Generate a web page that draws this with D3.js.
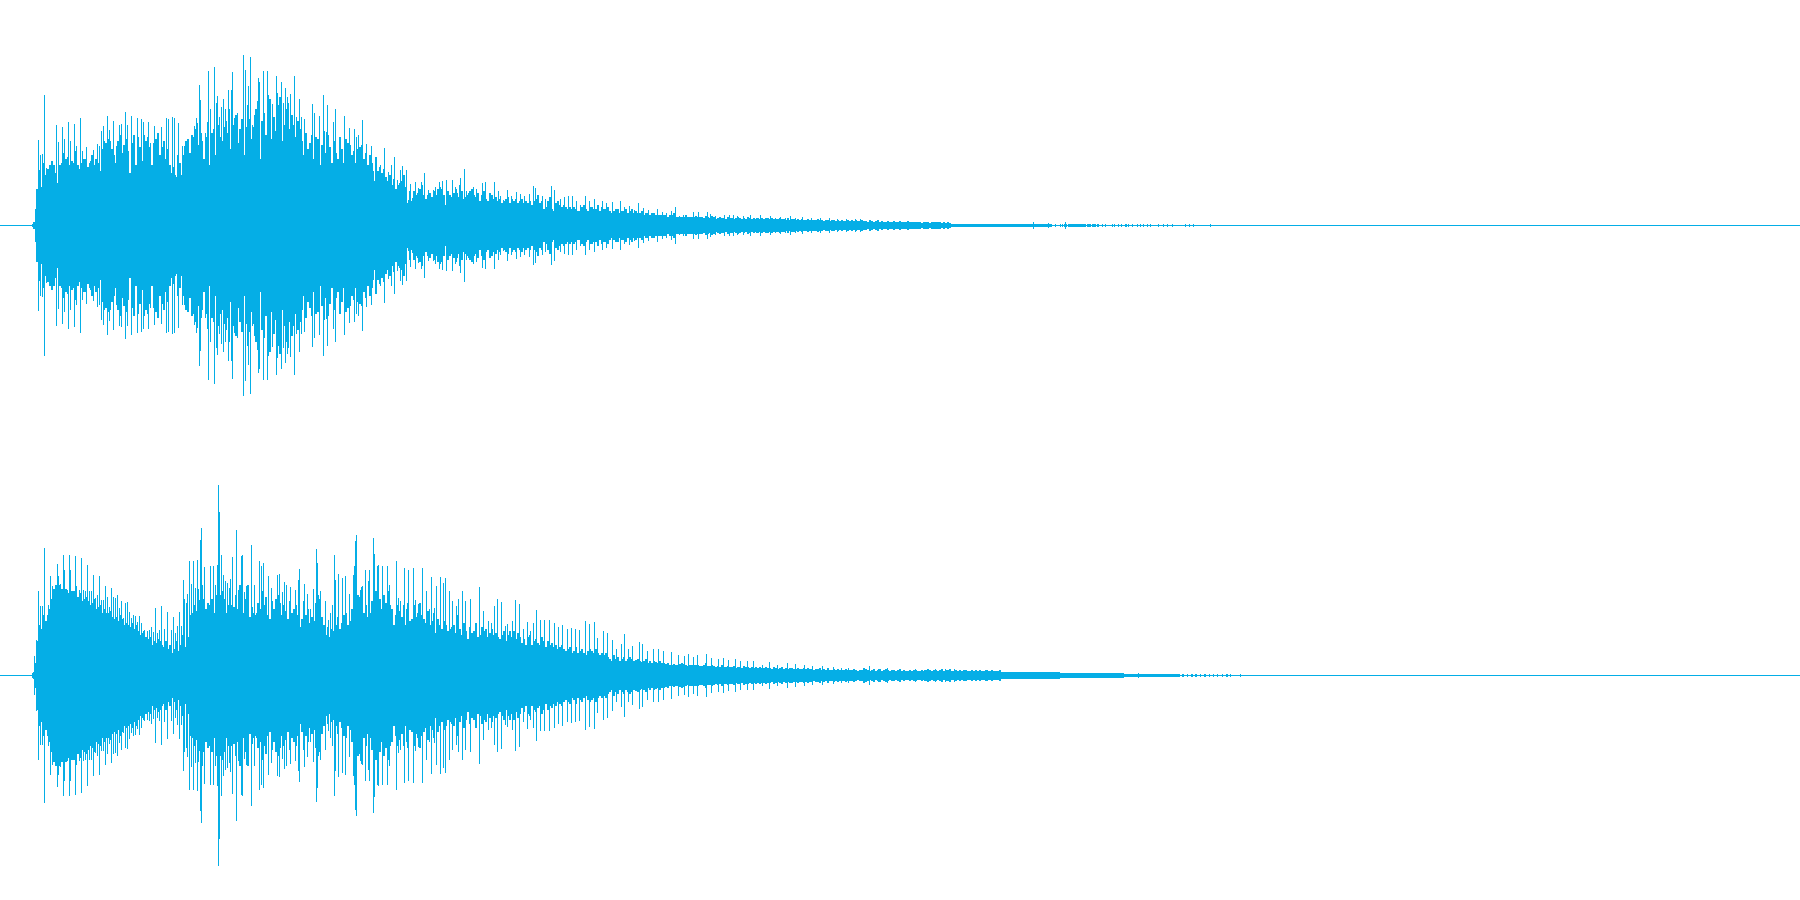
<!DOCTYPE html>
<html><head><meta charset="utf-8">
<style>html,body{margin:0;padding:0;background:#fff;overflow:hidden}svg{display:block}</style>
<script src="https://cdn.jsdelivr.net/npm/d3@7"></script></head>
<body><div id="chart"></div>
<script>
// Peak readings, in amplitude units, per time column
const leftSpikeTimes=[38,40,42,44,46,56,58,62,64,68,70,74,76,80,82,84,86,90,93,94,97,99,101,103,107,109,113,116,119,121,125,127,131,134,137,141,143,145,148,150,154,157,161,166,168,172,174,178,180,182,184,186,188,192,194,196,197,199,200,201,205,207,208,210,212,214,216,217,219,221,223,225,228,229,231,232,234,237,241,243,245,248,250,252,254,258,259,263,267,268,272,276,277,281,283,285,287,290,294,296,299,301,304,306,312,314,316,319,323,326,327,328,333,335,344,349,350,354,356,358,362,366,371,373,376,380,384,388,391,394,397,400,402,406,408,410,412,415,418,421,424,428,430,433,435,439,442,446,449,452,455,457,460,464,466,468,472,473,476,482,485,490,494,498,500,503,507,511,516,520,524,529,533,535,542,545,551,554,560,564,568,572,576,580,585,589,594,598,602,606,612,616,620,624,629,634,638,643,648,657,662,666,671,675,679,683,689,693,698,703,707,710,715,720,724,729,733,737,743,750,756,760,767,770,775,780,785,790,795,802,811,820,829,837,846,855,860,877,893,935,1033,1048,1065];
const leftSpikeAmps=[85,70,71,130,57,100,83,98,86,103,84,101,79,107,74,66,78,64,75,55,81,79,94,99,109,95,104,79,100,101,113,100,109,89,107,106,103,70,103,82,99,70,98,107,106,108,107,102,45,79,79,44,80,76,99,107,102,140,125,92,92,103,154,116,82,158,122,129,108,118,126,116,135,116,135,153,107,112,93,170,155,139,168,100,110,147,143,154,154,130,121,149,132,143,122,137,128,131,149,108,126,108,106,88,121,112,88,109,130,93,120,90,103,116,109,97,80,96,88,90,105,81,79,54,54,60,77,53,60,68,45,55,59,55,25,41,27,43,37,43,52,35,30,35,38,43,44,45,15,45,38,32,47,56,34,32,32,38,36,42,43,29,43,34,29,25,35,29,33,31,29,31,39,37,29,26,39,35,26,28,29,29,24,20,29,24,26,17,24,22,23,16,24,18,19,15,22,17,15,16,13,12,14,18,9,10,7,13,13,7,13,11,9,7,10,10,10,9,9,10,7,10,7,9,7,8,7,9,7,8,7,7,7,6,6,6,6,5,4,3,3,2,3,2];
const rightSpikeTimes=[34,36,38,40,42,44,46,48,50,52,54,56,57,58,60,63,64,67,69,70,73,75,76,79,81,83,85,87,89,91,93,95,97,99,101,103,105,107,109,111,113,115,117,119,121,123,125,127,129,131,133,135,137,139,141,144,147,149,151,153,155,157,159,161,164,167,169,171,173,175,177,179,181,183,184,186,187,189,191,193,195,197,199,200,201,204,206,210,213,215,218,219,221,223,225,227,229,230,232,234,236,238,241,242,244,246,248,251,253,254,256,259,261,263,265,268,271,274,277,279,282,284,286,289,290,293,295,298,299,303,304,307,310,313,316,317,320,323,325,328,330,332,334,335,338,340,342,345,349,353,354,355,356,358,360,362,365,368,369,373,374,377,378,382,387,389,392,396,398,400,404,406,408,412,413,415,418,422,426,429,431,434,436,440,443,445,449,452,456,458,462,465,470,474,476,479,483,488,491,494,497,501,505,507,512,515,519,523,527,530,533,536,540,544,549,554,558,562,567,571,575,579,585,589,594,597,603,607,612,616,621,624,628,632,639,642,647,653,658,663,671,678,684,688,693,697,706,711,718,723,728,735,740,747,753,762,769,777,787,795,804,812,822,833,841,848,860,869,878,887,897,915,924,935,945,954,960,967,977,987,1000,1138];
const rightSpikeAmps=[19,35,84,69,69,127,54,70,99,89,85,89,111,99,91,120,105,85,120,105,80,119,89,85,117,85,84,110,84,84,100,77,80,99,75,75,89,78,68,87,78,77,80,67,74,57,72,73,63,57,60,59,53,59,52,45,44,45,48,43,67,42,45,69,46,63,30,45,58,42,49,63,49,95,76,72,81,114,91,114,87,115,75,135,147,108,65,109,109,90,190,163,120,100,94,92,87,96,118,48,145,85,119,120,83,89,75,130,62,90,62,114,109,112,72,99,87,59,100,101,83,93,90,74,88,35,85,95,106,74,91,81,66,86,126,112,84,35,74,55,62,70,120,95,101,45,97,99,81,100,109,134,140,52,85,89,105,94,105,137,121,109,110,109,109,90,49,114,77,74,107,66,105,50,107,75,71,107,84,66,98,67,89,98,92,97,84,74,69,76,84,74,76,42,48,88,64,54,52,69,76,73,49,51,54,75,71,46,53,44,52,65,55,55,55,52,48,50,46,47,46,45,54,51,53,37,44,42,35,26,31,41,26,29,33,31,24,26,26,24,23,20,19,21,18,20,21,17,16,17,15,16,14,14,14,10,13,10,12,11,10,9,9,8,7,7,5,9,6,7,5,6,5,6,6,6,5,4,4,5,3,2];
// Typical column height, one reading per two columns from column 33
const leftMid=[3,16,36,55,38,62,50,56,60,64,60,52,40,60,62,72,66,68,60,64,62,74,60,56,62,66,66,58,62,70,60,66,62,54,
76,84,82,86,84,76,70,62,84,90,72,80,86,74,52,82,90,60,88,78,64,90,84,88,78,60,82,86,92,70,78,84,66,76,60,46,58,46,70,62,50,70,84,86,72,90,88,96,80,100,
84,66,88,80,60,92,96,70,100,88,84,98,104,92,76,104,100,110,82,96,106,70,98,120,106,86,98,116,124,66,104,112,90,120,126,86,108,94,120,128,84,100,116,122,96,110,100,88,104,96,
84,70,92,76,82,90,66,88,86,60,80,94,72,88,78,62,84,72,66,88,76,62,86,82,50,70,74,62,76,78,80,66,72,60,70,62,44,68,54,58,52,56,48,44,50,40,46,36,40,42,
44,50,38,22,34,24,34,30,32,36,40,30,26,30,32,28,34,30,36,38,36,30,20,34,30,28,32,36,28,40,34,26,28,30,34,36,30,28,32,24,30,34,26,24,32,30,26,28,24,26,
22,24,26,28,22,26,24,26,22,24,26,22,24,22,24,20,24,26,30,22,24,16,18,24,28,16,14,22,24,20,18,20,18,16,18,16,18,16,14,14,18,20,16,14,18,18,16,16,20,14,
18,16,16,18,14,12,14,16,16,12,14,14,16,12,14,16,12,14,12,12,14,10,12,12,10,12,12,10,10,10,10,10,10,8,10,10,12,8,8,8,8,8,10,8,8,8,8,9,8,8,
8,7,9,8,7,9,8,6,7,8,7,7,6,8,7,7,6,7,8,7,6,7,6,8,7,6,7,6,7,6,7,6,7,7,6,7,6,6,6,7,6,6,5,7,5,6,6,5,6,5,6,5,5,6,5,5,5,5,6,5,5,4,5,5,4,5,5,4,5,4,5,4,4,5,4,
5,4,5,4,4,5,4,4,3,5,4,3,4,5,3,4,3,3,4,3,3,4,3,3,4,3,3,3,4,3,3,3,3,3,3,2,3,3,3,2,3,3,3,3,3,2,3,2,3,2];
const rightMid=[3,12,34,50,46,60,54,60,66,76,86,90,88,90,86,90,86,82,80,84,84,78,78,82,74,76,78,74,70,72,76,66,68,70,
62,66,62,62,64,58,56,58,54,60,56,50,52,50,48,52,46,50,44,40,42,44,38,36,38,30,34,32,36,34,30,28,34,26,30,22,26,34,24,30,40,34,28,38,60,62,70,64,86,72,
90,76,66,72,70,76,62,80,110,80,84,76,62,70,74,70,68,80,66,90,80,62,76,90,58,68,60,60,72,66,84,70,78,60,56,74,66,76,80,72,60,70,64,56,52,62,66,70,60,48,
56,64,60,66,52,58,54,72,80,76,58,50,40,48,38,46,44,50,58,46,52,60,62,50,54,66,72,60,80,78,88,62,70,58,62,74,60,84,90,76,66,80,72,84,70,66,50,60,70,64,
58,70,50,72,54,56,70,58,62,72,60,56,52,64,50,54,62,42,56,50,46,54,50,44,46,48,50,42,60,46,40,52,44,36,48,42,44,52,38,40,48,44,46,38,42,46,40,42,38,36,
40,44,34,40,44,38,44,36,42,38,32,36,30,38,40,30,34,36,32,30,38,34,28,34,30,32,28,30,26,28,30,26,24,26,28,22,24,28,22,24,26,22,20,24,26,24,22,26,22,20,
22,20,22,18,16,14,20,16,18,14,16,18,14,16,18,16,14,15,16,14,13,14,16,12,14,12,14,13,12,14,12,12,11,12,10,10,11,10,10,11,12,11,10,9,10,10,10,10,10,9,
9,10,12,9,9,10,9,8,9,8,10,8,8,9,8,8,9,7,8,8,7,9,8,8,7,8,7,8,7,8,7,7,8,7,7,6,8,7,6,7,8,6,7,6,7,7,6,6,7,6,6,7,6,7,6,6,5,6,6,7,5,6,5,7,5,5,6,5,6,5,5,5,6,5,5,
5,6,5,4,5,5,7,6,5,4,5,6,4,5,6,4,5,6,5,4,5,5,4,5,6,4,5,4,4,5,4,5,5,4,4,5,4,5,6,5,4,5,5,4,5,6,4,5,5,6,4,4,5,4,5,4,5,5,4,4,5,4,5,4,5,4,4,5,4,4,5,4,4,4,5];
// Faint end of the decay: columns that still read as one unit
const leftTailTimes=[1050,1055,1060,1062,1064,1066,1068,1069,1070,1071,1072,1073,1074,1075,1076,1077,1078,1079,1080,1081,1082,1083,1084,1085,1087,1088,1089,1090,1092,1093,1094,1095,1097,1098,1102,1105,1112,1114,1118,1121,1125,1126,1128,1132,1137,1140,1143,1147,1150,1158,1163,1167,1172,1185,1189,1193,1210];
const rightTailTimes=[1178,1179,1182,1183,1187,1191,1192,1195,1196,1200,1204,1205,1209,1213,1217,1222,1226,1227,1230,1240];
// Floor of each channel, one reading per four columns from column 32
const leftBody=[1,36,38,40,40,42,42,44,44,42,40,42,44,42,40,42,44,
50,52,52,54,52,52,50,50,52,54,54,50,50,50,48,50,50,52,50,48,40,40,45,46,48,
50,52,52,52,50,50,54,56,56,58,54,56,58,58,56,58,60,60,58,58,56,56,54,52,50,
48,44,42,44,42,40,40,38,40,40,38,36,36,34,34,32,32,30,30,30,28,28,26,26,22,
16,16,14,16,16,16,16,15,16,15,15,15,15,14,15,15,15,14,14,14,14,14,14,14,14,
13,13,13,13,12,12,10,10,10,9,9,9,9,9,10,9,9,9,9,9,9,8,8,8,8,
7,7,7,7,7,7,6,6,6,6,6,5,5,5,5,5,5,5,5,5,5,5,4,4,4,
4,4,4,4,4,4,4,4,4,4,4,4,4,4,4,4,4,4,4,4,4,4,4,4,4,
4,4,4,3,3,3,3,3,3,3,3,3,3,3,3,3,3,2,2,2,2,2,2,2,2,
2,2,2,2,2,2,2,2,2,2,1,1,1,1,1,1,1,1,1,1,1,1,1,1,1,
1,1,1,1,1,1,1,1,1,1,1,1,1];
const rightBody=[2,34,40,46,50,52,56,56,54,54,52,52,52,50,50,48,46,
44,44,42,40,40,38,38,36,34,34,32,30,28,28,26,24,24,22,22,20,18,16,16,20,26,
28,30,34,32,34,36,34,32,30,34,36,36,30,32,36,34,34,30,32,34,34,32,30,32,30,
30,30,28,30,32,32,30,28,26,24,26,30,30,32,32,34,36,38,38,36,36,36,34,36,34,
30,30,28,28,28,28,26,26,24,24,24,24,22,22,20,20,20,18,18,18,18,18,18,18,18,
18,17,17,16,16,15,15,15,14,14,14,13,13,12,12,12,11,11,10,10,9,9,9,9,8,
8,8,7,7,7,7,7,6,6,6,6,6,6,6,5,5,5,5,5,5,5,5,5,5,4,
4,4,4,4,4,4,4,4,4,4,3,3,3,3,3,3,3,3,3,3,3,3,3,3,3,
4,4,4,4,4,4,4,4,4,4,4,4,4,4,4,4,4,4,4,4,4,4,4,4,4,4,4,4,4,4,4,4,4,4,4,4,4,4,4,4,
3,3,3,3,3,3,3,3,3,3,3,3,3,3,3,3,3,3,3,3,3,3,3,3,3,
2,2,2,2,2,2,2,2,2,2,2,2,2,2,2,2,
1,1,1,1,1,1,1,1,1,1,1,1,1,1];
const bodyStart=32, bodyStep=4, midStart=33, midStep=2;

const W=1800,H=900,COLOR="#05aee6";
const svg=d3.select("#chart").append("svg").attr("width",W).attr("height",H).style("shape-rendering","crispEdges");
const x=d3.scaleLinear().domain([0,W]).range([0,W]);
const yL=d3.scaleLinear().domain([-225,225]).range([450,0]);
const yR=d3.scaleLinear().domain([-225,225]).range([900,450]);

function channel(name,y,bodyVals,midVals,spikeTimes,spikeAmps,tailTimes){
  const g=svg.append("g").attr("class",name).attr("fill",COLOR);
  g.append("rect").attr("class","baseline").attr("x",x(0)).attr("width",x(W)-x(0)).attr("y",y(0)).attr("height",1);
  const bar=(sel,w)=>sel.attr("x",d=>x(d.t)).attr("width",w).attr("y",d=>y(d.a)).attr("height",d=>y(-d.a)-y(d.a)+1);
  g.selectAll("rect.body").data(bodyVals.map((a,i)=>({t:bodyStart+i*bodyStep,a}))).join("rect").attr("class","body").call(bar,x(bodyStep)-x(0));
  g.selectAll("rect.mid").data(midVals.map((a,i)=>({t:midStart+i*midStep,a}))).join("rect").attr("class","mid").call(bar,x(midStep)-x(0));
  g.selectAll("rect.spike").data(spikeTimes.map((t,i)=>({t,a:spikeAmps[i]}))).join("rect").attr("class","spike").call(bar,x(1)-x(0));
  g.selectAll("rect.tail").data(tailTimes.map(t=>({t,a:1}))).join("rect").attr("class","tail").call(bar,x(1)-x(0));
}
channel("left",yL,leftBody,leftMid,leftSpikeTimes,leftSpikeAmps,leftTailTimes);
channel("right",yR,rightBody,rightMid,rightSpikeTimes,rightSpikeAmps,rightTailTimes);
</script></body></html>
